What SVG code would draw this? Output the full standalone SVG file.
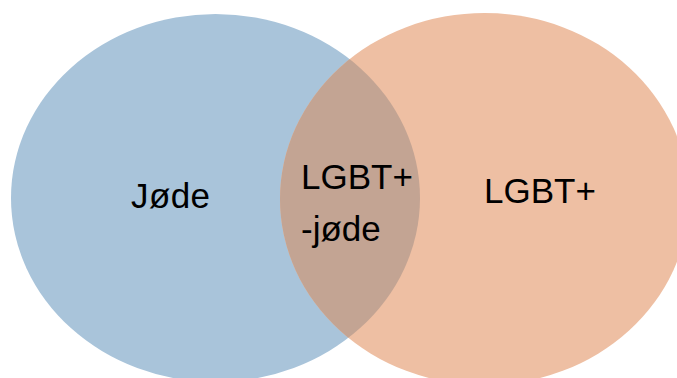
<svg xmlns="http://www.w3.org/2000/svg" width="677" height="378" viewBox="0 0 677 378">
<style>
.lbl{font-family:"Liberation Sans","DejaVu Sans",sans-serif;font-size:35px;fill:#000}
</style>
<defs>
<clipPath id="clipL"><ellipse cx="215.5" cy="198" rx="204.5" ry="184"/></clipPath>
</defs>
<rect width="677" height="378" fill="#ffffff"/>
<g id="jode">
<ellipse cx="215.5" cy="198" rx="204.5" ry="184" fill="#a9c4da"/>
<text class="lbl" x="131" y="208" textLength="79">Jøde</text>
</g>
<g id="lgbt">
<ellipse cx="484.5" cy="199" rx="204.5" ry="186" fill="#eebfa3"/>
<text class="lbl" x="484" y="203">LGBT+</text>
</g>
<g id="overlap">
<ellipse cx="484.5" cy="199" rx="204.5" ry="186" fill="#c3a493" clip-path="url(#clipL)"/>
<text class="lbl" x="301" y="189">LGBT+</text>
<text class="lbl" x="301" y="241">-jøde</text>
</g>
<g id="connectors"/>
</svg>
